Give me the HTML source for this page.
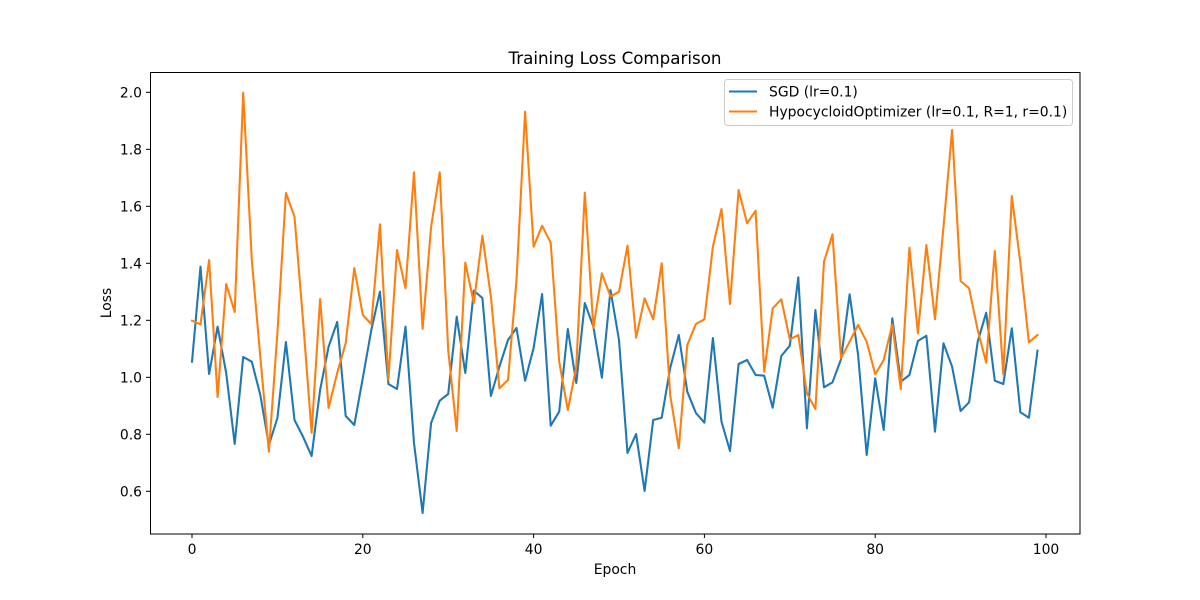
<!DOCTYPE html>
<html><head><meta charset="utf-8"><style>
html,body{margin:0;padding:0;background:#fff}
svg{display:block}
text{font-family:"DejaVu Sans","Liberation Sans",sans-serif;fill:#000}
</style></head><body>
<svg width="1200" height="600" viewBox="0 0 1200 600">
<rect width="1200" height="600" fill="#fff"/>
<g font-size="13.9">
<!-- y ticks -->
<g stroke="#000" stroke-width="1">
<line x1="146" x2="150" y1="92.3" y2="92.3"/>
<line x1="146" x2="150" y1="149.3" y2="149.3"/>
<line x1="146" x2="150" y1="206.3" y2="206.3"/>
<line x1="146" x2="150" y1="263.3" y2="263.3"/>
<line x1="146" x2="150" y1="320.3" y2="320.3"/>
<line x1="146" x2="150" y1="377.3" y2="377.3"/>
<line x1="146" x2="150" y1="434.3" y2="434.3"/>
<line x1="146" x2="150" y1="491.3" y2="491.3"/>
<line y1="534" y2="538" x1="192" x2="192"/>
<line y1="534" y2="538" x1="362.8" x2="362.8"/>
<line y1="534" y2="538" x1="533.6" x2="533.6"/>
<line y1="534" y2="538" x1="704.4" x2="704.4"/>
<line y1="534" y2="538" x1="875.2" x2="875.2"/>
<line y1="534" y2="538" x1="1046" x2="1046"/>
</g>
<g text-anchor="end">
<text x="142" y="97.3">2.0</text>
<text x="142" y="154.3">1.8</text>
<text x="142" y="211.3">1.6</text>
<text x="142" y="268.3">1.4</text>
<text x="142" y="325.3">1.2</text>
<text x="142" y="382.3">1.0</text>
<text x="142" y="439.3">0.8</text>
<text x="142" y="496.3">0.6</text>
</g>
<g text-anchor="middle">
<text x="192" y="554">0</text>
<text x="362.8" y="554">20</text>
<text x="533.6" y="554">40</text>
<text x="704.4" y="554">60</text>
<text x="875.2" y="554">80</text>
<text x="1046" y="554">100</text>
<text x="615" y="574">Epoch</text>
<text x="0" y="0" transform="translate(111,303) rotate(-90)">Loss</text>
</g>
<text x="615" y="64" text-anchor="middle" font-size="16.7">Training Loss Comparison</text>
</g>
<g fill="none" stroke-width="2.08" stroke-linejoin="round" stroke-linecap="square">
<polyline stroke="#1f77b4" points="192,361.7 200.5,266.7 209.1,374 217.6,326.7 226.2,373 234.7,444 243.2,357 251.8,361.7 260.3,395 268.9,445 277.4,418 285.9,342 294.5,420 303,436.7 311.6,456 320.1,390 328.6,346.7 337.2,322 345.7,416 354.3,425 362.8,378 371.3,330 379.9,291.7 388.4,384 397,389 405.5,326.7 414,443 422.6,513 431.1,423 439.7,400.7 448.2,394 456.7,316.7 465.3,373 473.8,290.7 482.4,298 490.9,396 499.4,366.7 508,340 516.5,328 525.1,380.7 533.6,348 542.1,294 550.7,425.7 559.2,411.7 567.8,329 576.3,383 584.8,303 593.4,326.7 601.9,377.7 610.5,290 619,340 627.5,453 636.1,434 644.6,491 653.2,420 661.7,417.7 670.2,368 678.8,335 687.3,391.7 695.9,413 704.4,422.7 712.9,338 721.5,421.7 730,451 738.6,364 747.1,360 755.6,375 764.2,375.7 772.7,407.7 781.3,356 789.8,345.7 798.3,277.3 806.9,428.3 815.4,310 824,387.3 832.5,382.3 841,359.3 849.6,294.3 858.1,355 866.7,455 875.2,378.3 883.7,430 892.3,318.3 900.8,381.7 909.4,375 917.9,341 926.4,335.7 935,431.7 943.5,343.3 952.1,366.7 960.6,411 969.1,402.3 977.7,341.7 986.2,312.7 994.8,380.7 1003.3,384 1011.8,328.3 1020.4,412.3 1028.9,417.7 1037.5,350.7"/>
<polyline stroke="#ff7f0e" points="192,320.7 200.5,324.3 209.1,260 217.6,397 226.2,284 234.7,312 243.2,92.7 251.8,260 260.3,356.7 268.9,451.7 277.4,333 285.9,193 294.5,216.7 303,320 311.6,432.7 320.1,299 328.6,408 337.2,373 345.7,343 354.3,268 362.8,315 371.3,324 379.9,224.3 388.4,380 397,250 405.5,288.3 414,172.3 422.6,329 431.1,226.7 439.7,172.3 448.2,350 456.7,431 465.3,262.7 473.8,303 482.4,235.7 490.9,296.7 499.4,388.3 508,380 516.5,280 525.1,111.7 533.6,246.7 542.1,225.7 550.7,242.7 559.2,361.7 567.8,410 576.3,366.7 584.8,192.7 593.4,328 601.9,273.3 610.5,296.7 619,291.7 627.5,245.7 636.1,337.7 644.6,298.3 653.2,319.3 661.7,263.3 670.2,395 678.8,448.3 687.3,345 695.9,324 704.4,319.3 712.9,246.7 721.5,209 730,304 738.6,190 747.1,223.3 755.6,210.7 764.2,371.7 772.7,308.3 781.3,299.3 789.8,339.3 798.3,335 806.9,393.3 815.4,409 824,261.7 832.5,234.3 841,358.3 849.6,341.7 858.1,325 866.7,341.7 875.2,374.3 883.7,360 892.3,324.3 900.8,389.3 909.4,247.7 917.9,333.3 926.4,245 935,319.3 943.5,226.7 952.1,130 960.6,281 969.1,288.3 977.7,330 986.2,362.7 994.8,251 1003.3,374.3 1011.8,196 1020.4,263.3 1028.9,342.3 1037.5,335"/>
</g>
<rect x="150.5" y="72.5" width="929.5" height="461.5" fill="none" stroke="#000" stroke-width="1"/>
<!-- legend -->
<rect x="724.5" y="79.5" width="348" height="46" rx="3" fill="#fff" fill-opacity="0.8" stroke="#ccc" stroke-width="1"/>
<line x1="729" x2="757" y1="91.5" y2="91.5" stroke="#1f77b4" stroke-width="2.08"/>
<line x1="729" x2="757" y1="111.5" y2="111.5" stroke="#ff7f0e" stroke-width="2.08"/>
<text x="769" y="96.5" font-size="13.9">SGD (lr=0.1)</text>
<text x="769" y="116.5" font-size="13.9">HypocycloidOptimizer (lr=0.1, R=1, r=0.1)</text>
</svg>
</body></html>
